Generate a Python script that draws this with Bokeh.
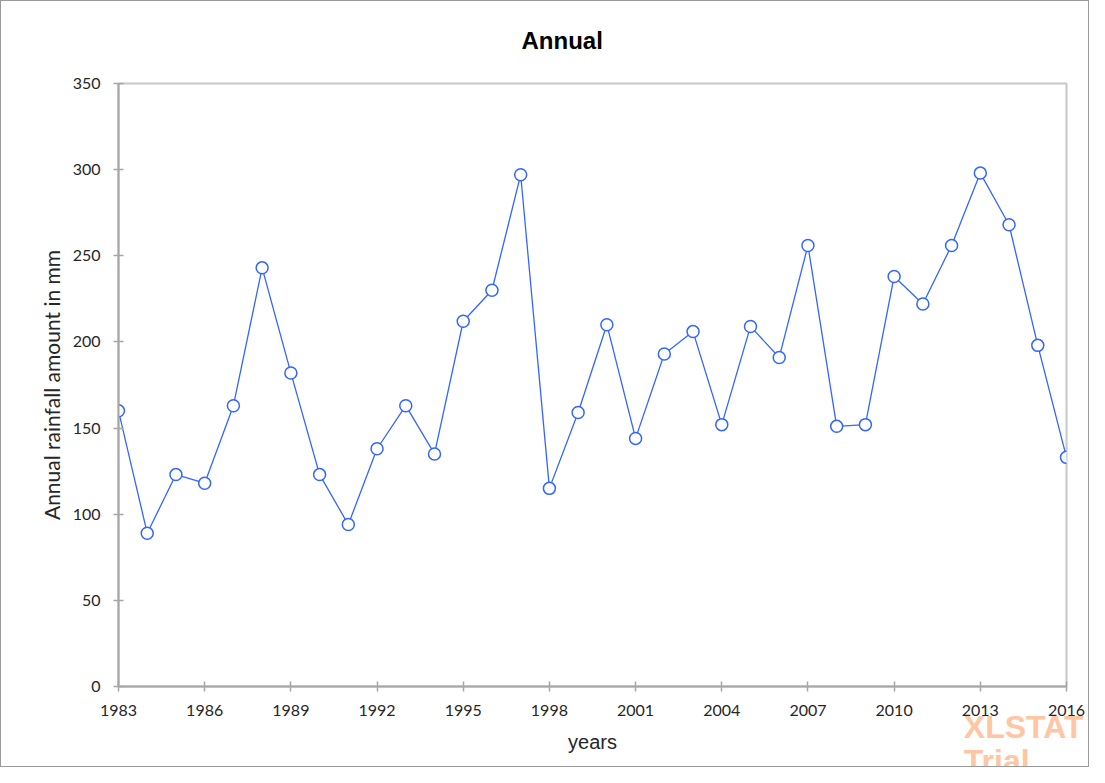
from bokeh.plotting import figure
from bokeh.models import Range1d, FixedTicker, Title, ColumnDataSource
from bokeh.embed import file_html
from bokeh.resources import INLINE

years = list(range(1983, 2017))
rainfall = [160, 89, 123, 118, 163, 243, 182, 123, 94, 138, 163, 135, 212, 230,
            297, 115, 159, 210, 144, 193, 206, 152, 209, 191, 256, 151, 152, 238,
            222, 256, 298, 268, 198, 133]
x_ticks = list(range(1983, 2017, 3))
y_ticks = list(range(0, 351, 50))

src = ColumnDataSource(dict(year=years, rain=rainfall))

p = figure(width=1089, height=767, output_backend="svg", toolbar_location=None,
           x_range=Range1d(1983, 2016), y_range=Range1d(0, 350),
           min_border_left=117, min_border_right=24, min_border_top=82,
           min_border_bottom=82)
p.styles = {"border": "1px solid #9a9a9a"}

p.title.text = "Annual\n"
p.title.align = "left"
p.title.offset = 403
p.title.text_font = "Liberation Sans"
p.title.text_font_size = "24px"
p.title.text_font_style = "bold"
p.title.text_color = "#000000"
p.title.standoff = 6

p.xgrid.visible = False
p.ygrid.visible = False
p.outline_line_color = "#c8c8c8"
p.outline_line_width = 2

blue = "#3366ff"
p.line("year", "rain", source=src, line_color=blue, line_width=1.3)
p.scatter("year", "rain", source=src, size=12, fill_color="white",
          line_color=blue, line_width=1.5)

for ax in (p.xaxis[0], p.yaxis[0]):
    ax.axis_line_color = "#a6a6a6"
    ax.axis_line_width = 2
    ax.major_tick_line_color = "#a6a6a6"
    ax.major_tick_line_width = 1.5
    ax.major_tick_in = 5
    ax.major_tick_out = 5
    ax.minor_tick_line_color = None
    ax.major_label_text_font = "Lato"
    ax.major_label_text_font_size = "16px"
    ax.major_label_text_color = "#262626"

p.xaxis.ticker = FixedTicker(ticks=x_ticks)
p.yaxis.ticker = FixedTicker(ticks=y_ticks)
p.xaxis.major_label_standoff = 13
p.yaxis.major_label_standoff = 13

p.xaxis.axis_label = "years"
p.xaxis.axis_label_text_font = "Liberation Sans"
p.xaxis.axis_label_text_font_size = "20px"
p.xaxis.axis_label_text_font_style = "normal"
p.xaxis.axis_label_text_color = "#262626"
p.xaxis.axis_label_standoff = 12

p.yaxis.axis_label = "Annual rainfall amount in mm"
p.yaxis.axis_label_text_font = "Lato"
p.yaxis.axis_label_text_font_size = "21px"
p.yaxis.axis_label_text_font_style = "normal"
p.yaxis.axis_label_text_color = "#262626"
p.yaxis.axis_label_standoff = 6

# XLSTAT Trial watermark, as a multi-line title in the bottom panel
p.add_layout(Title(text="XLSTAT\nTrial\n", align="right", offset=-17, standoff=-115,
                   text_font="Liberation Sans", text_font_size="32px",
                   text_line_height=0.95, text_font_style="bold",
                   text_color="#ffc6a4"), "below")

open("out.html", "w").write(file_html(p, INLINE))
